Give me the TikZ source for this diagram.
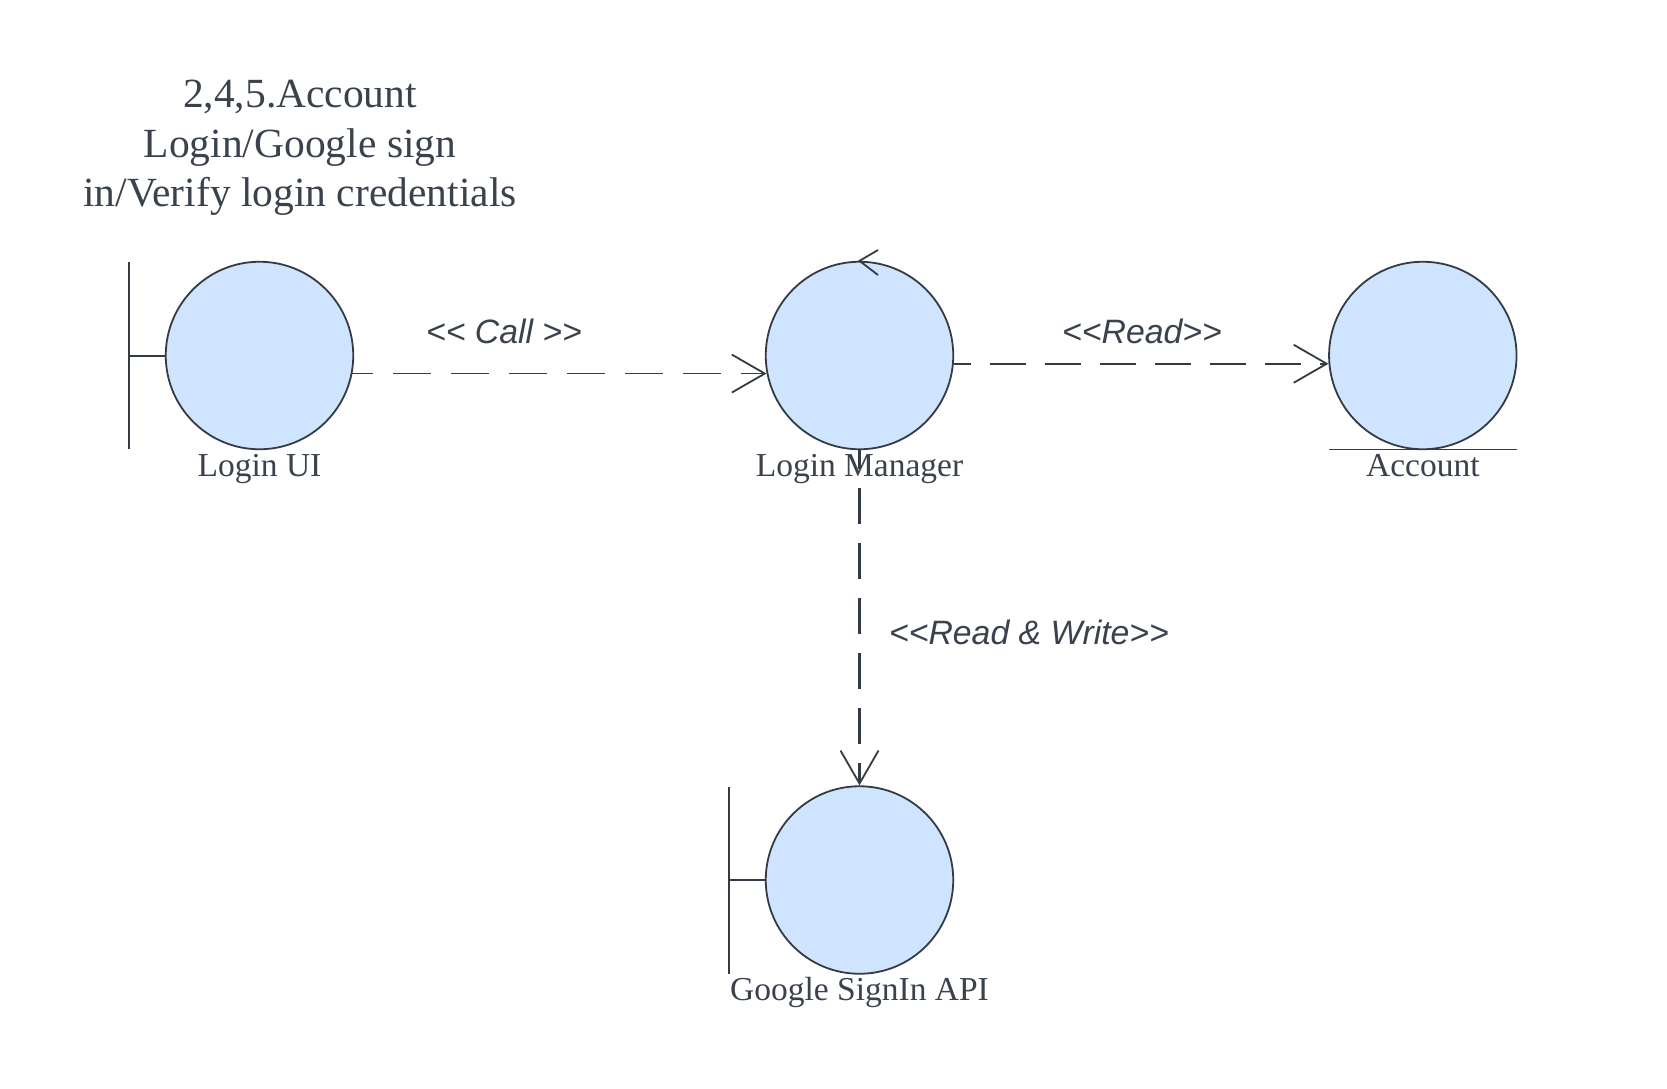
\documentclass[tikz,border=0pt]{standalone}
\usepackage{fontspec}
\setmainfont{Liberation Serif}
\setsansfont{Liberation Sans}
\usetikzlibrary{arrows.meta}
\definecolor{inkc}{HTML}{343B45}
\definecolor{textc}{HTML}{3A424D}
\definecolor{fillc}{HTML}{CFE4FE}
\newcommand{\lguil}{{<}{<}}
\newcommand{\rguil}{{>}{>}}
\tikzset{
  obj/.style={circle, draw=inkc, fill=fillc, line width=1.8pt, minimum size=187.5pt, inner sep=0pt},
  lbl/.style={text=textc, font=\fontsize{33.5}{38}\selectfont, inner sep=0pt, anchor=base},
  ttl/.style={text=textc, font=\fontsize{41.5}{50}\selectfont, inner sep=0pt, anchor=base},
  dlbl/.style={text=textc, font=\sffamily\itshape\fontsize{33.8}{38}\selectfont, inner sep=0pt, anchor=base},
  dep/.style={draw=inkc, line width=1.9pt, dash pattern=on 36pt off 19pt, -{Straight Barb[length=33pt,width=38pt,line width=1.8pt]}},
  depthin/.style={dep, line width=1.3pt, dash pattern=on 38pt off 20pt},
  bar/.style={draw=inkc, line width=2.4pt},
  tick/.style={draw=inkc, line width=2pt}
}
\begin{document}
\begin{tikzpicture}[x=1pt,y=-1pt]
\useasboundingbox[fill=white] (0,0) rectangle (1667,1088);

% title
\node[ttl] (t1) at (300,107.3) {2,4,5.Account};
\node[ttl] (t2) at (300,157.3) {Login/Google sign};
\node[ttl] (t3) at (300,206.7) {in/Verify login credentials};

% objects
\node[obj] (ui) at (259.5,355.5) {};
\node[obj] (lm) at (859.5,355.5) {};
\node[obj] (acc) at (1422.8,355.5) {};
\node[obj] (gsi) at (859.5,880) {};

% labels
\node[lbl] (uil) at (259.5,476) {Login UI};
\node[lbl] (lml) at (859.5,476) {Login Manager};
\node[lbl] (accl) at (1422.8,476) {Account};
\node[lbl] (gsil) at (859.5,1000.5) {Google SignIn API};

% boundary symbols
\coordinate (uiT) at (129,262);
\coordinate (uiB) at (129,449);
\coordinate (uiM) at (129,355.5);
\draw[bar] (uiT) -- (uiB);
\draw[tick] (ui.west) -- (uiM);

\coordinate (gT) at (729,786.5);
\coordinate (gB) at (729,973.5);
\coordinate (gM) at (729,880);
\draw[bar] (gT) -- (gB);
\draw[tick] (gsi.west) -- (gM);

% entity underline
\coordinate (accUL) at (1329,449.3);
\coordinate (accUR) at (1517,449.3);
\draw[draw=inkc, line width=1.3pt] (accUL) -- (accUR);

% control arrow on top
\coordinate (cA) at (878,250);
\coordinate (cB) at (878,275);
\draw[draw=inkc, line width=1.8pt] (cA) -- (lm.north) -- (cB);

% dependencies
\draw[depthin, dash phase=17pt] (ui.-11.4) -- (lm.191.4);
\draw[dep, dash phase=19pt] (lm.-5) -- (acc.185);
\draw[dep, line width=2.1pt, dash phase=17pt] (lm.south) -- (gsi.north);

% dependency labels
\node[dlbl] (callL) at (504,343) {\lguil{} Call \rguil};
\node[dlbl] (readL) at (1142,343) {\lguil{}Read\rguil};
\node[dlbl] (rwL) at (1029,644) {\lguil{}Read \& Write\rguil};
\end{tikzpicture}
\end{document}
